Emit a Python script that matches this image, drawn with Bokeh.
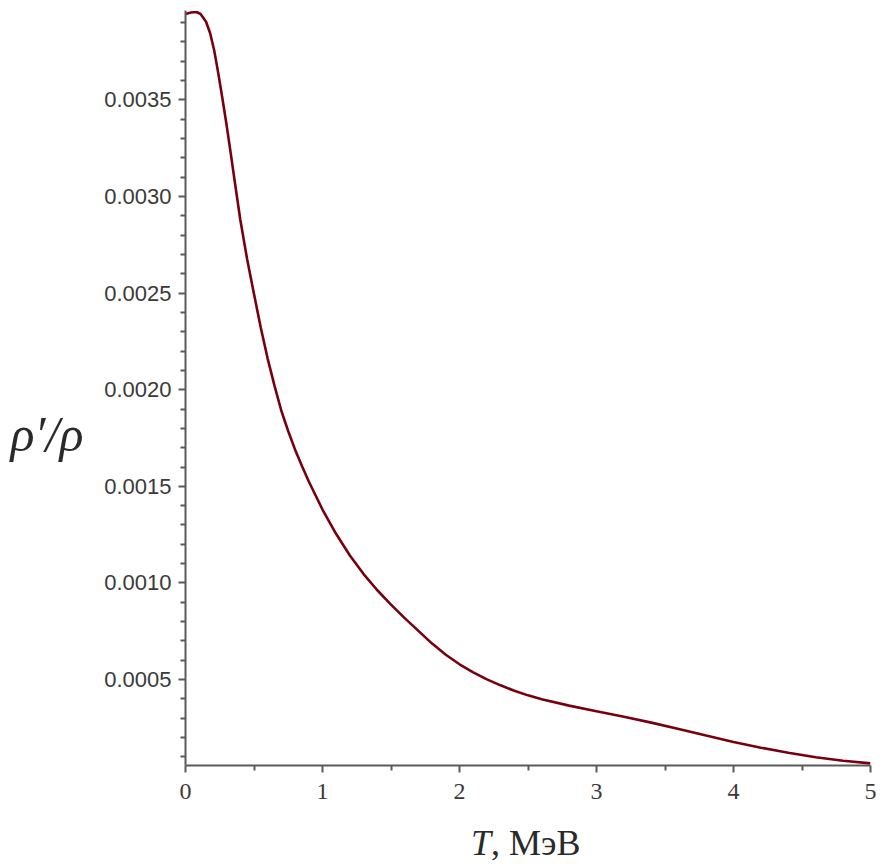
from bokeh.plotting import figure
from bokeh.models import Range1d, FixedTicker, PrintfTickFormatter, Label
from bokeh.embed import file_html
from bokeh.resources import INLINE

# Data
T_mev = [0.0, 0.04, 0.08, 0.11, 0.15, 0.18, 0.21, 0.24, 0.27, 0.30, 0.33, 0.36,
         0.40, 0.45, 0.50, 0.55, 0.60, 0.65, 0.70, 0.75, 0.80, 0.85, 0.90, 1.0,
         1.1, 1.2, 1.3, 1.4, 1.5, 1.6, 1.7, 1.8, 1.9, 2.0, 2.1, 2.2, 2.3, 2.4,
         2.5, 2.6, 2.8, 3.0, 3.2, 3.4, 3.6, 3.8, 4.0, 4.2, 4.4, 4.6, 4.8, 5.0]
rho_ratio_e3 = [3.945, 3.953, 3.955, 3.945, 3.905, 3.845, 3.755, 3.635, 3.505, 3.370,
                3.225, 3.075, 2.880, 2.675, 2.495, 2.320, 2.160, 2.020, 1.890, 1.785,
                1.690, 1.605, 1.525, 1.380, 1.253, 1.142, 1.046, 0.962, 0.888, 0.818,
                0.752, 0.686, 0.628, 0.579, 0.537, 0.501, 0.470, 0.442,
                0.418, 0.398, 0.365, 0.336, 0.307, 0.277, 0.244, 0.210, 0.177, 0.147,
                0.121, 0.098, 0.080, 0.066]
rho_ratio = [v * 1e-3 for v in rho_ratio_e3]

x_major = [0, 1, 2, 3, 4, 5]
x_minor = [0.5, 1.5, 2.5, 3.5, 4.5]
y_major = [0.0005, 0.0010, 0.0015, 0.0020, 0.0025, 0.0030, 0.0035]
y_minor = [k * 0.0001 for k in range(1, 40) if k % 5 != 0]

x_label_T = "T"
x_label_unit = ", МэВ"
y_label = "ρ′/ρ"

p = figure(width=880, height=867, output_backend="svg", toolbar_location=None,
           x_range=Range1d(0, 5), y_range=Range1d(0.000055, 0.003963),
           min_border_left=185, min_border_right=10, min_border_top=10,
           min_border_bottom=102)
p.outline_line_color = None
p.xgrid.grid_line_color = None
p.ygrid.grid_line_color = None
p.background_fill_color = "white"

p.line(T_mev, rho_ratio, line_color="#78000E", line_width=2.6)

axis_color = "#5a5a5a"
for ax in (p.xaxis[0], p.yaxis[0]):
    ax.axis_line_color = axis_color
    ax.axis_line_width = 2
    ax.major_tick_line_color = axis_color
    ax.minor_tick_line_color = axis_color
    ax.major_tick_line_width = 2
    ax.minor_tick_line_width = 2
    ax.major_tick_in = 0
    ax.minor_tick_in = 0
    ax.major_tick_out = 7
    ax.minor_tick_out = 5
    ax.major_label_text_color = "#3a3a3a"

p.xaxis.ticker = FixedTicker(ticks=x_major, minor_ticks=x_minor)
p.yaxis.ticker = FixedTicker(ticks=y_major, minor_ticks=y_minor)
p.yaxis.formatter = PrintfTickFormatter(format="%.4f")
p.xaxis.major_label_text_font = "Liberation Serif"
p.xaxis.major_label_text_font_size = "24px"
p.xaxis.major_label_standoff = 11
p.yaxis.major_label_text_font = "Liberation Sans"
p.yaxis.major_label_text_font_size = "22px"
p.yaxis.major_label_standoff = 7

# Axis titles, placed in side panels (positions in data units) so they are not clipped
p.add_layout(Label(x=2.5, y=-0.000345, text=x_label_T, text_font="Liberation Serif",
                   text_font_style="italic", text_font_size="36px",
                   text_color="#2a2a2a", text_align="right", text_baseline="middle",
                   x_offset=-37), "left")
p.add_layout(Label(x=2.5, y=-0.000345, text=x_label_unit, text_font="Liberation Serif",
                   text_font_size="36px", text_color="#2a2a2a",
                   text_align="left", text_baseline="middle", x_offset=-37), "below")
p.add_layout(Label(x=-1.277, y=0.00177, text=y_label, text_font="Liberation Serif",
                   text_font_style="italic", text_font_size="50px",
                   text_color="#2a2a2a", text_align="left", text_baseline="middle"),
             "left")

open("out.html", "w").write(file_html(p, INLINE))
